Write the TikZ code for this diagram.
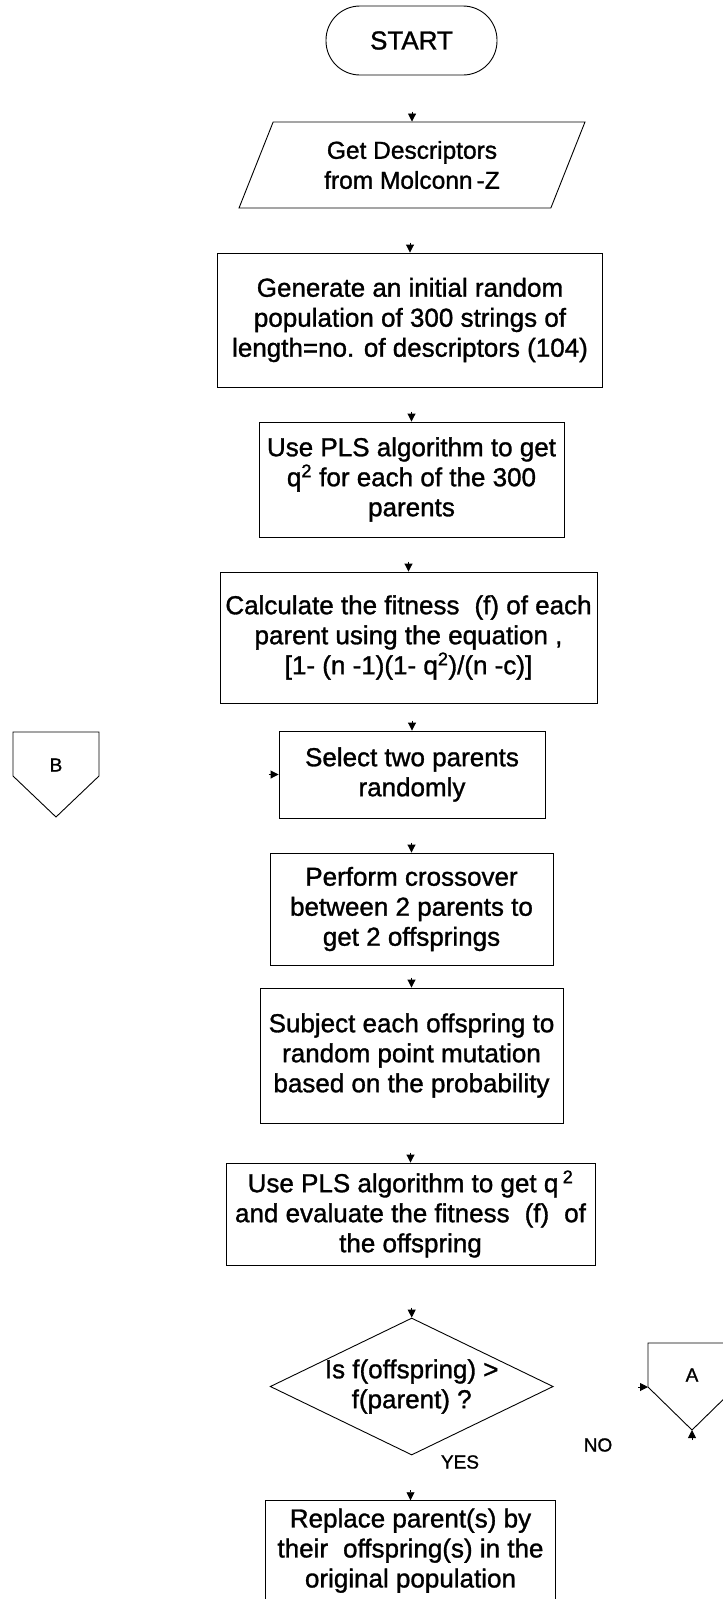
\documentclass[tikz,border=0pt]{standalone}
\usepackage{fontspec}
\setmainfont[FakeBold=1.2]{Liberation Sans}
\usetikzlibrary{shapes.geometric,arrows.meta}
\newcommand{\flowfont}{\fontsize{26}{30}\selectfont}
\newcommand{\tagfont}{\fontsize{19}{21}\selectfont}
\tikzset{
	box/.style={draw,line width=.9pt,align=center,font=\flowfont,inner sep=2pt},
	tip/.style={-{Triangle[width=8pt,length=8pt]},line width=.9pt},
	tag/.style={font=\tagfont,inner sep=0pt}
}

\begin{document}
\begin{tikzpicture}[x=1pt,y=-1pt]
\useasboundingbox[fill=white] (0,0) rectangle (723,1599);
\node[box,rounded corners=34pt,minimum width=171pt,minimum height=69pt] (start) at (411.5,40.5) {START};
\node[box,font=\fontsize{24.5}{30}\selectfont,trapezium,trapezium left angle=67,trapezium right angle=113,trapezium stretches,minimum width=347pt,minimum height=86pt] (get) at (412,165) {Get Descriptors\\from Molconn\,-Z};
\node[box,minimum width=385pt,minimum height=134pt] (gen) at (410,320) {Generate an initial random\\population of 300 strings of\\length=no. of descriptors (104)};
\node[box,minimum width=305pt,minimum height=115pt] (pls) at (411.5,479.5) {Use PLS algorithm to get\\q\textsuperscript{2} for each of the 300\\parents};
\node[box,minimum width=377pt,minimum height=131pt] (fit) at (408.5,637.5) {Calculate the fitness\hspace{.3em} (f) of each\\parent using the equation ,\\{[}1- (n -1)(1- q\textsuperscript{2})/(n -c)]};
\node[box,minimum width=266pt,minimum height=87pt] (sel) at (412,774.5) {Select two parents\\randomly};
\node[box,minimum width=283pt,minimum height=112pt] (cross) at (411.5,909) {Perform crossover\\between 2 parents to\\get 2 offsprings};
\node[box,minimum width=303pt,minimum height=135pt] (mut) at (411.5,1055.5) {Subject each offspring to\\random point mutation\\based on the probability};
\node[box,minimum width=369pt,minimum height=102pt] (eval) at (410.5,1214) {Use PLS algorithm to get q\,\textsuperscript{2}\\and evaluate the fitness\hspace{.3em} (f)\hspace{.3em} of\\the offspring};
\node[draw,line width=.9pt,diamond,inner sep=0pt,minimum width=283pt,minimum height=137pt] (dec) at (411.7,1386.5) {};
\node[font=\flowfont,align=center] (dectext) at (dec) {Is f(offspring) >\\f(parent) ?};
\node[box,minimum width=290pt,minimum height=100pt] (repl) at (410.5,1550.7) {Replace parent(s) by\\their\hspace{.3em} offspring(s) in the\\original population};
\node[tag] (yes) at (460,1462) {YES};
\node[tag] (no) at (598,1445) {NO};

% off-page connectors
\draw[line width=.9pt] (13,732) -- (99,732) -- (99,776) -- (56,817) -- (13,776) -- cycle;
\node[tag] (B) at (56,765) {B};
\draw[line width=.9pt] (648,1343) -- (736,1343) -- (736,1387) -- (692,1430) -- (648,1387) -- cycle;
\node[tag] (A) at (692,1375) {A};
\coordinate (Ain) at (648,1387);
\coordinate (Abot) at (692,1430);

\foreach \n in {get,gen,pls,fit,sel,cross,mut,eval,dec,repl}{
	\draw[tip] ([yshift=10pt]\n.north) -- (\n.north);
}
\draw[tip] ([xshift=-10pt]sel.west) -- (sel.west);
\draw[tip] ([xshift=-10pt]Ain) -- (Ain);
\draw[tip] ([yshift=-10pt]Abot) -- (Abot);
\end{tikzpicture}
\end{document}
